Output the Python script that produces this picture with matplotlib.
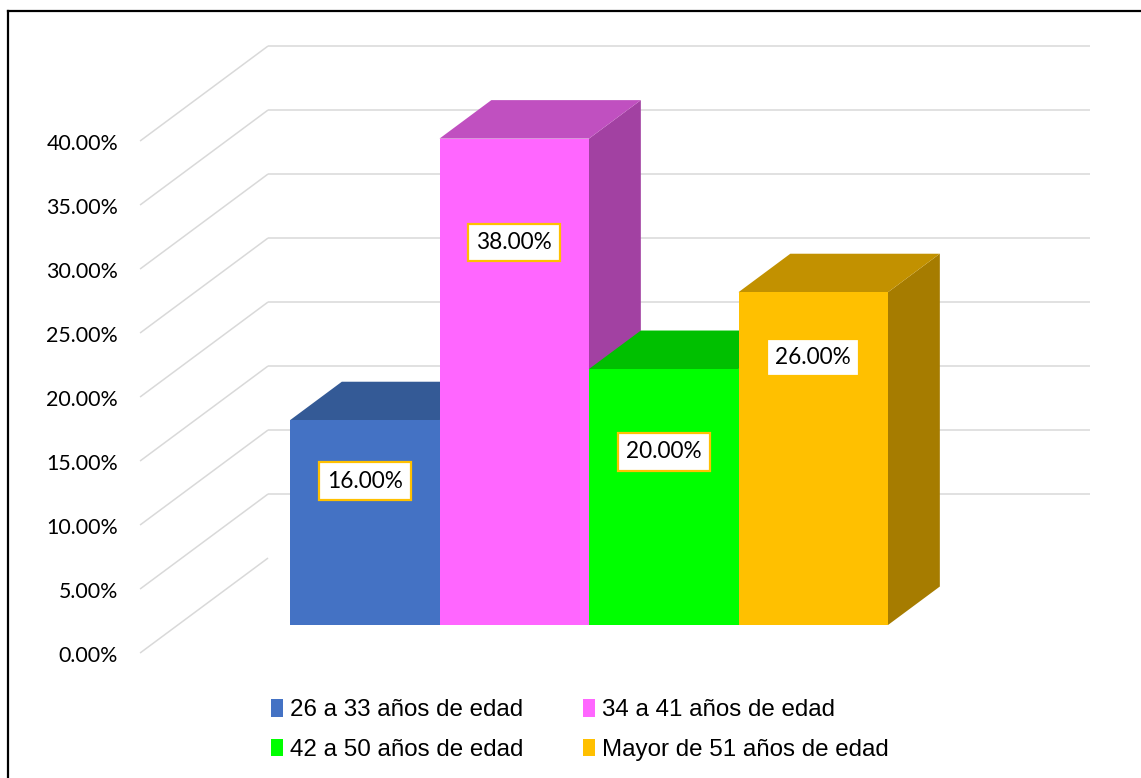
import matplotlib
matplotlib.use('Agg')
import matplotlib.pyplot as plt
from matplotlib.patches import Polygon, Patch
from matplotlib.lines import Line2D

# ---------------- data ----------------
categories = ["26 a 33 años de edad", "34 a 41 años de edad",
              "42 a 50 años de edad", "Mayor de 51 años de edad"]
values = [0.16, 0.38, 0.20, 0.26]
value_labels = ["16.00%", "38.00%", "20.00%", "26.00%"]
tick_values = [0.00, 0.05, 0.10, 0.15, 0.20, 0.25, 0.30, 0.35, 0.40]
tick_labels = ["0.00%", "5.00%", "10.00%", "15.00%", "20.00%",
               "25.00%", "30.00%", "35.00%", "40.00%"]

# ---------------- style ----------------
front_colors = ['#4472C4', '#FF66FF', '#00FF00', '#FFC000']
top_colors = ['#345A96', '#C050C0', '#00C000', '#C29100']
side_colors = ['#2E4F86', '#A241A2', '#00A000', '#A67C00']
label_edge = '#FFC000'
label_frac = [0.703, 0.787, 0.676, 0.804]
grid_color = '#D9D9D9'

W, H = 1141, 778
fig = plt.figure(figsize=(W / 100, H / 100), dpi=100)
ax = fig.add_axes([0, 0, 1, 1])
ax.set_xlim(-2.4398, 5.1923)
ax.set_ylim(-0.11953, 0.48828)
ax.axis('off')

# oblique depth vector (full depth of the chart box) in data units
DX = 128 / 149.5
DY = 95 / 1280
wall_front, wall_back = -0.295, 0.705
bar_depth = 0.405
x_left, x_right = -1.2505, 4.2478

# walls / gridlines
for v, lab in zip(tick_values, tick_labels):
    xf, yf = x_left + wall_front * DX, v + wall_front * DY
    xb, yb = x_left + wall_back * DX, v + wall_back * DY
    ax.plot([xf, xb], [yf, yb], color=grid_color, lw=1.1, zorder=1,
            solid_capstyle='butt')
    if v > 0:
        ax.plot([xb, x_right + wall_back * DX], [yb, yb], color=grid_color,
                lw=1.1, zorder=1, solid_capstyle='butt')
    ax.annotate(lab, xy=(xf, yf), xytext=(-15.8, -1.8),
                textcoords='offset points', ha='right', va='center',
                family=['Lato', 'DejaVu Sans'], size=15.4, color='#000000')

# bars (pseudo 3D)
for i, v in enumerate(values):
    x0, x1 = i - 0.5, i + 0.5
    ddx, ddy = bar_depth * DX, bar_depth * DY
    z = 2 + 3 * i
    side = Polygon([(x1, 0), (x1 + ddx, ddy), (x1 + ddx, v + ddy), (x1, v)],
                   closed=True, facecolor=side_colors[i], edgecolor='none',
                   zorder=z)
    top = Polygon([(x0, v), (x0 + ddx, v + ddy), (x1 + ddx, v + ddy), (x1, v)],
                  closed=True, facecolor=top_colors[i], edgecolor='none',
                  zorder=z + 1)
    ax.add_patch(side)
    ax.add_patch(top)
    ax.bar(i, v, width=1.0, color=front_colors[i], edgecolor='none',
           zorder=z + 2)

# data labels
for i, v in enumerate(values):
    ax.text(i, v * label_frac[i], value_labels[i], ha='center', va='center',
            family=['Lato', 'DejaVu Sans'], size=16.3, color='#000000',
            zorder=30,
            bbox=dict(boxstyle='square,pad=0.36', facecolor='white',
                      edgecolor=label_edge, linewidth=1.6))

# legend (row-wise order: blue, pink / green, orange)
order = [0, 2, 1, 3]
handles = [Patch(facecolor=front_colors[k], edgecolor='none') for k in order]
labels = [categories[k] for k in order]
fig.legend(handles, labels, ncol=2, loc='upper left',
           bbox_to_anchor=(271 / W, 1 - 699 / H), frameon=False,
           prop=dict(family=['Liberation Sans', 'DejaVu Sans'], size=17.4),
           handlelength=0.5, handleheight=0.75, handletextpad=0.27,
           columnspacing=2.5, labelspacing=0.72, borderpad=0,
           borderaxespad=0)

# chart border (left and top edges visible)
fig.add_artist(Line2D([8 / W, 8 / W], [0, 1 - 11 / H], transform=fig.transFigure,
                      color='black', lw=1.6))
fig.add_artist(Line2D([8 / W, 1], [1 - 11 / H, 1 - 11 / H],
                      transform=fig.transFigure, color='black', lw=1.6))

fig.savefig('out.png', dpi=100, facecolor='white')
